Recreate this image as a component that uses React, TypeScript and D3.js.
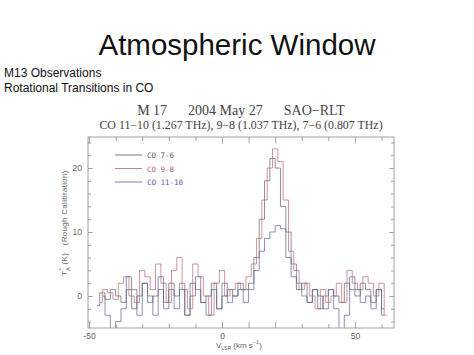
import { useEffect, useRef } from "react";
import * as d3 from "d3";

const WIDTH = 474;
const HEIGHT = 355;
const FRAME = { left: 88, right: 394, top: 137, bottom: 328 };

// channel width in km/s
const CHANNEL = 2;

// series values (K), one per channel
const co76Start = -47;
const co76 = [
  -1.5, 0.5, -0.5, 1, 0, -1, 1, -2, 0, 2, -1, 0, 1, -1, 2, 0, 1, -3, 2, 1, -1, 0, 2, -2, 0, 1,
  0, 2, 1, 2, 6, 12, 18, 21.5, 20, 14, 6, 3, 1, 2, -1, 1, 0, -2, 1, 0, -1, 2, 1, 0, 2, 1, -1, 1, -2,
];
const co98Start = -46;
const co98 = [
  -1, 1, 0.5, -0.5, 2, 3, 0, -1, 4, 3, 1, 5, 2, -1, 4, 6, 1, -2, 5, 3, 0, -3, 2, 4, 0, 1, 2, 1,
  3, 5, 9, 15, 20, 23, 21, 15, 7, 4, 1, 2, 0, -2, 1, -1, 0, 2, -1, 4, 2, 1, 3, 2, 0, 2, -3,
];
const co1110Start = -45;
const co1110 = [
  0, -3, -7, -4, -2, 3, 1, -3, 2, 0, -3, 3, -2, 1, -2, 2, -3, 0, 3, -1, -3, 1, -2, 2, -1, 0, 1,
  -1, 1, 4, 7, 9, 10, 11, 10.5, 10, 5, 2, 0, -1, 1, -2, 0, 1, -2, -7, -3, 3, 1, -1, 0, -2, 1, -3,
];

const seriesNames = ["CO 7-6", "CO 9-8", "CO 11-10"];
const seriesColors = ["#5a5a5a", "#b8606a", "#5c5c9c"];

const xTicksMajor = [-50, 0, 50];
const yTicksMajor = [0, 10, 20];

type Pt = { v: number; t: number };

const toPoints = (start: number, vals: number[]): Pt[] =>
  vals.map((t, i) => ({ v: start + i * CHANNEL, t }));

export default function App() {
  const axesRef = useRef<SVGGElement>(null);

  const xScale = d3.scaleLinear().domain([-50.4, 64.7]).range([FRAME.left, FRAME.right]);
  const yScale = d3.scaleLinear().domain([-5, 24.85]).range([FRAME.bottom, FRAME.top]);

  const series = [
    toPoints(co76Start, co76),
    toPoints(co98Start, co98),
    toPoints(co1110Start, co1110),
  ];

  const lineBuilder = d3
    .line<Pt>()
    .x((d) => xScale(d.v))
    .y((d) => yScale(d.t))
    .curve(d3.curveStep);

  useEffect(() => {
    const g = d3.select(axesRef.current);
    g.selectAll("*").remove();
    const minorX = d3.range(-50, 61, 10);
    const minorY = d3.range(-4, 25, 2);
    const style = (sel: any) => {
      sel.select(".domain").remove();
      sel.selectAll("line").attr("stroke", "#8a8a8a").attr("stroke-width", 0.8);
      sel.selectAll("text").attr("fill", "#666").style("font-family", "Liberation Sans, Arial").style("font-size", "8.5px");
    };
    // bottom
    g.append("g")
      .attr("transform", `translate(0,${FRAME.bottom})`)
      .call(d3.axisBottom(xScale).tickValues(minorX).tickSize(-4).tickPadding(5).tickFormat((d) => (xTicksMajor.includes(+d) ? String(d) : "")))
      .call(style);
    // top
    g.append("g")
      .attr("transform", `translate(0,${FRAME.top})`)
      .call(d3.axisTop(xScale).tickValues(minorX).tickSize(-4).tickFormat(() => ""))
      .call(style);
    // left
    g.append("g")
      .attr("transform", `translate(${FRAME.left},0)`)
      .call(d3.axisLeft(yScale).tickValues(minorY).tickSize(-3).tickPadding(6).tickFormat((d) => (yTicksMajor.includes(+d) ? String(d) : "")))
      .call(style);
    // right
    g.append("g")
      .attr("transform", `translate(${FRAME.right},0)`)
      .call(d3.axisRight(yScale).tickValues(minorY).tickSize(-3).tickFormat(() => ""))
      .call(style);
    // slightly longer major ticks
    g.selectAll(".tick")
      .filter((d: any) => yTicksMajor.includes(d) || xTicksMajor.includes(d))
      .select("line")
      .each(function () {
        const l = d3.select(this);
        ["x2", "y2"].forEach((a) => {
          const v = +l.attr(a);
          if (v) l.attr(a, v * 1.6);
        });
      });
  }, []);

  return (
    <svg width={WIDTH} height={HEIGHT} style={{ position: "absolute", left: 0, top: 0, background: "#fff" }}>
      <text x={237} y={55} textAnchor="middle" fontFamily="Liberation Sans, Arial" fontSize={29.5} fill="#111">
        Atmospheric Window
      </text>
      <text x={4} y={77} fontFamily="Liberation Sans, Arial" fontSize={12} fill="#111">
        M13 Observations
      </text>
      <text x={4} y={92} fontFamily="Liberation Sans, Arial" fontSize={12} fill="#111">
        Rotational Transitions in CO
      </text>

      <text x={241} y={115} textAnchor="middle" fontFamily="Liberation Serif, serif" fontSize={14} fill="#444" xmlSpace="preserve">
        {"M 17      2004 May 27      SAO\u2212RLT"}
      </text>
      <text x={241} y={129} textAnchor="middle" fontFamily="Liberation Serif, serif" fontSize={11.9} fill="#444">
        {"CO 11\u221210 (1.267 THz), 9\u22128 (1.037 THz), 7\u22126 (0.807 THz)"}
      </text>

      <defs>
        <clipPath id="plot">
          <rect x={FRAME.left} y={FRAME.top} width={FRAME.right - FRAME.left} height={FRAME.bottom - FRAME.top} />
        </clipPath>
      </defs>

      <g clipPath="url(#plot)">
        {series.map((s, i) => (
          <path key={i} d={lineBuilder(s) || ""} fill="none" stroke={seriesColors[i]} strokeWidth={0.8} opacity={0.85} />
        ))}
      </g>

      <rect
        x={FRAME.left}
        y={FRAME.top}
        width={FRAME.right - FRAME.left}
        height={FRAME.bottom - FRAME.top}
        fill="none"
        stroke="#8a8a8a"
        strokeWidth={0.8}
      />
      <g ref={axesRef} />

      {seriesNames.map((n, i) => (
        <g key={n} transform={`translate(115,${155 + i * 13.5})`}>
          <line x1={0} x2={27} y1={0} y2={0} stroke={seriesColors[i]} strokeWidth={0.8} />
          <text x={32} y={3} fontFamily="DejaVu Sans Mono, monospace" fontSize={7.5} fill={seriesColors[i]}>
            {n}
          </text>
        </g>
      ))}

      <text
        transform={`translate(67,${yScale(10) - 9}) rotate(-90)`}
        textAnchor="middle"
        fontFamily="Liberation Sans, Arial"
        fontSize={8}
        fill="#666"
        letterSpacing={0.3}
        xmlSpace="preserve"
      >
        T
        <tspan fontSize={6} dy={-4}>*</tspan>
        <tspan fontSize={5.5} dy={7} dx={-3}>A</tspan>
        <tspan dy={-3}>{" (K)   (Rough Calibration)"}</tspan>
      </text>

      <text x={216} y={348} fontFamily="Liberation Sans, Arial" fontSize={8} fill="#666" xmlSpace="preserve">
        V<tspan fontSize={5} dy={2}>LSR</tspan>
        <tspan dy={-2}>{" (km s"}</tspan>
        <tspan fontSize={5.5} dy={-4}>{"\u22121"}</tspan>
        <tspan dy={4}>)</tspan>
      </text>
    </svg>
  );
}
